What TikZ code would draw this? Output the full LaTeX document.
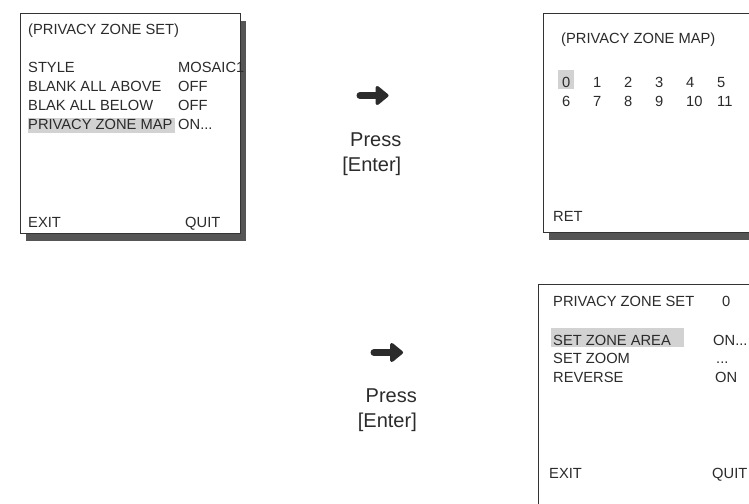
\documentclass[tikz,border=0pt]{standalone}
\usepackage{fontspec}
\setmainfont{Liberation Sans}
\usetikzlibrary{arrows.meta,shadows}
\definecolor{OSDInk}{HTML}{2B2B2B}
\definecolor{OSDFrame}{HTML}{333333}
\definecolor{OSDShadow}{HTML}{555555}
\definecolor{OSDMark}{HTML}{D2D2D2}

\begin{document}
\begin{tikzpicture}[
    x=1pt,y=-1pt,
    screen/.style={draw=OSDFrame,line width=1.2pt,fill=white,inner sep=0pt,anchor=north west},
    shade/.style={drop shadow={shadow xshift=5.5pt,shadow yshift=-7pt,fill=OSDShadow,opacity=1}},
    picked/.style={fill=OSDMark},
    osd/.style={font=\fontsize{14.7}{18}\selectfont,text=OSDInk,inner sep=0pt,anchor=base west},
    press/.style={font=\fontsize{20}{24.5}\selectfont,text=OSDInk,inner sep=0pt,align=right,anchor=base east},
    pressarrow/.style={line width=7pt,line cap=round,draw=OSDInk,-{Triangle[round,length=14pt,width=22pt]}}
  ]
  \clip (0,0) rectangle (749,503);
  % screens
  \node[screen,shade,minimum width=220pt,minimum height=220pt] (setmenu) at (20,13) {};
  \node[screen,shade,minimum width=260pt,minimum height=219pt] (mapmenu) at (543,13) {};
  \node[screen,minimum width=260pt,minimum height=260pt] (zonemenu) at (538,284) {};
  % selection bars
  \fill[picked] (28,118) rectangle (175,133);
  \fill[picked] (558,70) rectangle (574,88.5);
  \fill[picked] (551,328) rectangle (684,347);

  % privacy zone set
  \node[osd] (setttl) at (28,35) {(PRIVACY ZONE SET)};
  \node[osd] (style) at (28,73) {STYLE};
  \node[osd] (above) at (28,92) {BLANK ALL ABOVE};
  \node[osd] (below) at (28,110.5) {BLAK ALL BELOW};
  \node[osd] (map) at (28,129.5) {PRIVACY ZONE MAP};
  \node[osd] (styleval) at (178,73) {MOSAIC1};
  \node[osd] (aboveval) at (178,92) {OFF};
  \node[osd] (belowval) at (178,110.5) {OFF};
  \node[osd] (mapval) at (178,129.5) {ON...};
  \node[osd] (setexit) at (28,227) {EXIT};
  \node[osd] (setquit) at (185,227) {QUIT};

  % privacy zone map
  \node[osd] (mapttl) at (561,44) {(PRIVACY ZONE MAP)};
  \foreach \n in {0,...,11}{
    \pgfmathsetmacro{\zx}{562+31*mod(\n,6)}
    \pgfmathsetmacro{\zy}{88+18*int(\n/6)}
    \node[osd] (z\n) at (\zx,\zy) {\n};
  }
  \node[osd] (ret) at (553,221) {RET};

  % zone 0
  \node[osd] (zonettl) at (553,306.5) {PRIVACY ZONE SET};
  \node[osd] (zonenum) at (722,306.5) {0};
  \node[osd] (area) at (553,345) {SET ZONE AREA};
  \node[osd] (zoom) at (553,363.5) {SET ZOOM};
  \node[osd] (reverse) at (553,382) {REVERSE};
  \node[osd] (areaval) at (713,345) {ON...};
  \node[osd] (zoomval) at (716,363.5) {...};
  \node[osd] (reverseval) at (715,382) {ON};
  \node[osd] (zoneexit) at (549,478) {EXIT};
  \node[osd] (zonequit) at (712,478) {QUIT};

  % steps
  \coordinate (goA) at (360,95.5);
  \coordinate (goAtip) at (388.5,95.5);
  \draw[pressarrow] (goA) -- (goAtip);
  \node[press] (pressA) at (401.5,171) {Press\\{[Enter]}};
  \coordinate (goB) at (374,352.5);
  \coordinate (goBtip) at (403,352.5);
  \draw[pressarrow] (goB) -- (goBtip);
  \node[press] (pressB) at (417,427) {Press\\{[Enter]}};
\end{tikzpicture}
\end{document}
